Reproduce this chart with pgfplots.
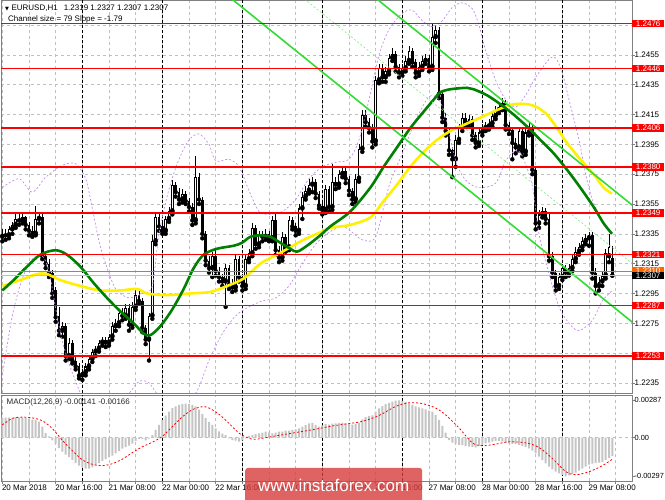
\documentclass[border=0pt]{standalone}
\usepackage{pgfplots}
\pgfplotsset{compat=1.18}
\usepackage{pgfplotstable}
\usepackage{fontspec}
\setmainfont{Liberation Sans}
\newfontfamily\symfont{DejaVu Sans}

\definecolor{lvlred}{RGB}{255,0,0}
\definecolor{maGreen}{RGB}{0,128,0}
\definecolor{maYellow}{RGB}{255,240,0}
\definecolor{chanGreen}{RGB}{50,220,50}
\definecolor{bbViolet}{RGB}{195,140,235}
\definecolor{gridGray}{RGB}{192,192,192}
\definecolor{histGray}{RGB}{196,196,196}
\definecolor{bidOrange}{RGB}{255,102,0}
\definecolor{frameGray}{RGB}{128,128,128}
\definecolor{wmRed}{RGB}{215,60,60}

% hourly candles, bar index i
\pgfplotstableread{
i o h l c
0 1.2333 1.2338 1.2330 1.2335
2 1.2334 1.2340 1.2332 1.2338
3 1.2338 1.2343 1.2335 1.2341
4 1.2341 1.2348 1.2339 1.2345
6 1.2344 1.2349 1.2342 1.2346
10 1.2335 1.2354 1.2334 1.2345
11 1.2345 1.2349 1.2342 1.2346
18 1.2270 1.2276 1.2266 1.2273
20 1.2253 1.2265 1.2251 1.2262
24 1.2240 1.2244 1.2237 1.2242
25 1.2242 1.2248 1.2240 1.2246
26 1.2246 1.2253 1.2244 1.2251
27 1.2251 1.2258 1.2249 1.2256
28 1.2256 1.2260 1.2253 1.2258
29 1.2258 1.2264 1.2256 1.2262
30 1.2262 1.2266 1.2260 1.2264
32 1.2262 1.2268 1.2260 1.2266
33 1.2266 1.2276 1.2264 1.2273
34 1.2273 1.2278 1.2270 1.2275
35 1.2275 1.2284 1.2273 1.2282
37 1.2280 1.2288 1.2278 1.2285
39 1.2274 1.2289 1.2272 1.2286
40 1.2286 1.2298 1.2284 1.2294
44 1.2264 1.2282 1.2250 1.2280
45 1.2280 1.2334 1.2278 1.2330
46 1.2330 1.2349 1.2328 1.2346
49 1.2337 1.2347 1.2335 1.2345
50 1.2345 1.2353 1.2343 1.2350
51 1.2350 1.2371 1.2348 1.2368
54 1.2358 1.2365 1.2356 1.2362
58 1.2344 1.2387 1.2342 1.2373
63 1.2312 1.2323 1.2306 1.2320
67 1.2303 1.2315 1.2286 1.2312
70 1.2299 1.2321 1.2297 1.2318
73 1.2300 1.2321 1.2298 1.2318
74 1.2318 1.2325 1.2316 1.2322
75 1.2322 1.2342 1.2320 1.2339
77 1.2328 1.2337 1.2326 1.2334
79 1.2333 1.2338 1.2331 1.2335
81 1.2332 1.2347 1.2330 1.2344
84 1.2319 1.2336 1.2317 1.2333
86 1.2326 1.2347 1.2324 1.2344
89 1.2337 1.2355 1.2335 1.2352
90 1.2352 1.2363 1.2345 1.2360
91 1.2360 1.2367 1.2358 1.2364
92 1.2364 1.2372 1.2362 1.2368
93 1.2368 1.2373 1.2363 1.2370
97 1.2351 1.2368 1.2349 1.2365
99 1.2353 1.2382 1.2351 1.2370
101 1.2368 1.2378 1.2366 1.2375
102 1.2375 1.2380 1.2373 1.2377
106 1.2358 1.2375 1.2356 1.2372
107 1.2372 1.2395 1.2370 1.2392
108 1.2392 1.2418 1.2390 1.2415
112 1.2397 1.2441 1.2395 1.2438
113 1.2438 1.2449 1.2436 1.2446
115 1.2440 1.2447 1.2437 1.2444
116 1.2444 1.2456 1.2442 1.2453
117 1.2453 1.2460 1.2451 1.2456
120 1.2443 1.2449 1.2441 1.2446
121 1.2446 1.2454 1.2444 1.2451
122 1.2451 1.2461 1.2449 1.2458
125 1.2443 1.2450 1.2441 1.2447
126 1.2447 1.2454 1.2445 1.2451
127 1.2451 1.2456 1.2449 1.2453
129 1.2447 1.2476 1.2445 1.2467
130 1.2467 1.2475 1.2463 1.2472
136 1.2385 1.2401 1.2380 1.2398
137 1.2398 1.2409 1.2396 1.2406
138 1.2406 1.2416 1.2404 1.2413
140 1.2409 1.2415 1.2407 1.2412
143 1.2396 1.2406 1.2394 1.2403
144 1.2403 1.2409 1.2401 1.2406
145 1.2406 1.2410 1.2404 1.2407
146 1.2407 1.2412 1.2405 1.2409
147 1.2409 1.2417 1.2407 1.2414
148 1.2414 1.2421 1.2412 1.2418
149 1.2418 1.2423 1.2416 1.2420
150 1.2420 1.2426 1.2418 1.2423
155 1.2393 1.2407 1.2391 1.2404
157 1.2390 1.2406 1.2388 1.2403
158 1.2403 1.2410 1.2401 1.2407
161 1.2342 1.2351 1.2339 1.2348
162 1.2348 1.2353 1.2346 1.2350
167 1.2300 1.2309 1.2298 1.2306
168 1.2306 1.2315 1.2304 1.2312
170 1.2309 1.2315 1.2307 1.2312
171 1.2312 1.2321 1.2310 1.2318
172 1.2318 1.2326 1.2316 1.2323
173 1.2323 1.2329 1.2321 1.2326
174 1.2326 1.2333 1.2324 1.2330
175 1.2330 1.2335 1.2328 1.2332
176 1.2332 1.2336 1.2327 1.2334
179 1.2300 1.2306 1.2297 1.2303
180 1.2303 1.2310 1.2300 1.2307
181 1.2307 1.2325 1.2305 1.2322
182 1.2320 1.2335 1.2316 1.2326
}\bulls

\pgfplotstableread{
i o h l c
1 1.2335 1.2338 1.2331 1.2334
5 1.2345 1.2348 1.2341 1.2344
7 1.2346 1.2347 1.2338 1.2341
8 1.2341 1.2343 1.2334 1.2337
9 1.2337 1.2340 1.2333 1.2335
12 1.2346 1.2348 1.2318 1.2320
13 1.2320 1.2323 1.2312 1.2315
14 1.2315 1.2318 1.2306 1.2309
15 1.2309 1.2311 1.2292 1.2295
16 1.2297 1.2299 1.2276 1.2279
17 1.2280 1.2286 1.2267 1.2270
19 1.2273 1.2275 1.2250 1.2253
21 1.2262 1.2264 1.2248 1.2250
22 1.2250 1.2253 1.2244 1.2246
23 1.2246 1.2248 1.2238 1.2240
31 1.2264 1.2266 1.2259 1.2262
36 1.2282 1.2285 1.2277 1.2280
38 1.2285 1.2288 1.2270 1.2274
41 1.2294 1.2297 1.2288 1.2290
42 1.2290 1.2292 1.2269 1.2272
43 1.2272 1.2274 1.2261 1.2264
47 1.2346 1.2348 1.2337 1.2340
48 1.2340 1.2343 1.2335 1.2337
52 1.2368 1.2370 1.2360 1.2363
53 1.2363 1.2366 1.2355 1.2358
55 1.2362 1.2364 1.2355 1.2357
56 1.2357 1.2359 1.2350 1.2353
57 1.2353 1.2356 1.2341 1.2344
59 1.2373 1.2376 1.2355 1.2358
60 1.2358 1.2360 1.2332 1.2335
61 1.2335 1.2337 1.2314 1.2317
62 1.2317 1.2320 1.2309 1.2312
64 1.2320 1.2324 1.2307 1.2310
65 1.2310 1.2313 1.2303 1.2306
66 1.2306 1.2308 1.2300 1.2303
68 1.2312 1.2314 1.2298 1.2301
69 1.2301 1.2305 1.2296 1.2299
71 1.2318 1.2320 1.2303 1.2306
72 1.2306 1.2308 1.2297 1.2300
76 1.2339 1.2341 1.2325 1.2328
78 1.2334 1.2337 1.2330 1.2333
80 1.2335 1.2337 1.2330 1.2332
82 1.2344 1.2348 1.2321 1.2324
83 1.2324 1.2327 1.2316 1.2319
85 1.2333 1.2335 1.2323 1.2326
87 1.2344 1.2346 1.2338 1.2340
88 1.2340 1.2342 1.2334 1.2337
94 1.2370 1.2372 1.2359 1.2362
95 1.2362 1.2364 1.2352 1.2354
96 1.2354 1.2357 1.2348 1.2351
98 1.2365 1.2367 1.2350 1.2353
100 1.2370 1.2373 1.2365 1.2368
103 1.2377 1.2379 1.2369 1.2372
104 1.2372 1.2374 1.2361 1.2364
105 1.2364 1.2366 1.2355 1.2358
109 1.2415 1.2418 1.2407 1.2410
110 1.2410 1.2413 1.2403 1.2406
111 1.2406 1.2409 1.2393 1.2397
114 1.2446 1.2449 1.2437 1.2440
118 1.2456 1.2458 1.2444 1.2447
119 1.2447 1.2449 1.2440 1.2443
123 1.2458 1.2460 1.2447 1.2450
124 1.2450 1.2452 1.2440 1.2443
128 1.2453 1.2455 1.2444 1.2447
131 1.2472 1.2474 1.2426 1.2429
132 1.2429 1.2431 1.2410 1.2413
133 1.2413 1.2416 1.2401 1.2404
134 1.2404 1.2406 1.2388 1.2391
135 1.2391 1.2393 1.2373 1.2385
139 1.2413 1.2416 1.2407 1.2409
141 1.2412 1.2414 1.2398 1.2401
142 1.2401 1.2403 1.2393 1.2396
151 1.2423 1.2425 1.2405 1.2408
152 1.2408 1.2410 1.2402 1.2405
153 1.2405 1.2407 1.2385 1.2396
154 1.2396 1.2399 1.2389 1.2393
156 1.2404 1.2406 1.2387 1.2390
159 1.2407 1.2409 1.2375 1.2378
160 1.2378 1.2380 1.2338 1.2342
163 1.2350 1.2352 1.2342 1.2345
164 1.2345 1.2348 1.2317 1.2320
165 1.2320 1.2323 1.2306 1.2309
166 1.2309 1.2311 1.2297 1.2300
169 1.2312 1.2314 1.2306 1.2309
177 1.2334 1.2336 1.2305 1.2309
178 1.2309 1.2312 1.2295 1.2300
183 1.2319 1.2327 1.2307 1.2307
}\bears

% MACD histogram
\pgfplotstableread{
i v
0 0.00154
1 0.00154
2 0.00155
3 0.00155
4 0.00156
5 0.00156
6 0.00154
7 0.00150
8 0.00145
9 0.00138
10 0.00135
11 0.00123
12 0.00085
13 0.00035
14 0.00010
15 -0.00020
16 -0.00045
17 -0.00080
18 -0.00108
19 -0.00130
20 -0.00150
21 -0.00170
22 -0.00195
23 -0.00215
24 -0.00228
25 -0.00238
26 -0.00238
27 -0.00228
28 -0.00212
29 -0.00195
30 -0.00178
31 -0.00165
32 -0.00152
33 -0.00138
34 -0.00120
35 -0.00103
36 -0.00085
37 -0.00072
38 -0.00062
39 -0.00045
40 -0.00025
41 -0.00010
42 -0.00012
43 -0.00020
44 -0.00008
45 0.00020
46 0.00060
47 0.00098
48 0.00135
49 0.00170
50 0.00200
51 0.00228
52 0.00240
53 0.00252
54 0.00258
55 0.00262
56 0.00260
57 0.00252
58 0.00240
59 0.00215
60 0.00182
61 0.00150
62 0.00122
63 0.00098
64 0.00072
65 0.00048
66 0.00032
67 0.00020
68 -0.00005
69 -0.00018
70 -0.00022
71 -0.00030
72 -0.00020
73 -0.00006
74 0.00012
75 0.00020
76 0.00028
77 0.00033
78 0.00038
79 0.00046
80 0.00040
81 0.00033
82 0.00038
83 0.00046
84 0.00046
85 0.00054
86 0.00054
87 0.00060
88 0.00064
89 0.00072
90 0.00085
91 0.00097
92 0.00110
93 0.00113
94 0.00098
95 0.00085
96 0.00095
97 0.00105
98 0.00100
99 0.00108
100 0.00110
101 0.00112
102 0.00115
103 0.00110
104 0.00105
105 0.00100
106 0.00105
107 0.00115
108 0.00140
109 0.00158
110 0.00168
111 0.00172
112 0.00200
113 0.00226
114 0.00243
115 0.00258
116 0.00268
117 0.00278
118 0.00284
119 0.00287
120 0.00282
121 0.00276
122 0.00264
123 0.00252
124 0.00240
125 0.00232
126 0.00226
127 0.00218
128 0.00208
129 0.00200
130 0.00174
131 0.00136
132 0.00090
133 0.00038
134 -0.00018
135 -0.00038
136 -0.00048
137 -0.00056
138 -0.00058
139 -0.00064
140 -0.00068
141 -0.00070
142 -0.00074
143 -0.00064
144 -0.00056
145 -0.00044
146 -0.00038
147 -0.00030
148 -0.00024
149 -0.00024
150 -0.00030
151 -0.00038
152 -0.00044
153 -0.00048
154 -0.00048
155 -0.00056
156 -0.00064
157 -0.00070
158 -0.00082
159 -0.00100
160 -0.00120
161 -0.00146
162 -0.00172
163 -0.00198
164 -0.00222
165 -0.00243
166 -0.00260
167 -0.00274
168 -0.00288
169 -0.00297
170 -0.00290
171 -0.00280
172 -0.00268
173 -0.00253
174 -0.00238
175 -0.00222
176 -0.00208
177 -0.00200
178 -0.00196
179 -0.00192
180 -0.00186
181 -0.00170
182 -0.00155
183 -0.00141
}\macd

\pgfplotsset{
  chart/.style={
    scale only axis, width=631pt, xmin=-0.4, xmax=188.9,
    clip mode=individual,
    axis line style={frameGray, line width=0.8pt},
    xtick={0,8,...,184},
    xmajorgrids,
    major grid style={gridGray, dash pattern=on 3pt off 3pt, line width=0.6pt},
    extra x ticks={24,48,72,96,120,144,168},
    extra x tick labels={},
    extra x tick style={grid=major, major grid style={black, dash pattern=on 3pt off 2pt, line width=0.6pt}, major tick length=0pt},
    ytick pos=right, yticklabel pos=right,
    tick align=outside, major tick length=3pt,
    tick style={frameGray, line width=0.6pt},
    yticklabel style={anchor=west, inner sep=0pt, xshift=-0.5pt},
    ticklabel style={font=\fontsize{8}{9}\selectfont},
    scaled y ticks=false,
  },
}
\tikzset{
  lvlbox/.style={anchor=west, fill=lvlred, text=white, inner sep=0pt,
    minimum width=32pt, minimum height=7.5pt, font=\fontsize{8}{8}\selectfont},
}

\begin{document}
\begin{tikzpicture}
\path[use as bounding box] (0pt,0pt) rectangle (665pt,499pt);

% ---------------- price panel ----------------
\begin{axis}[chart,
  name=price,
  at={(1pt,106pt)}, anchor=south west, height=393pt,
  ymin=1.22282, ymax=1.24919,
  ytick={1.2235,1.2255,1.2275,1.2295,1.2315,1.2335,1.2355,1.2375,1.2395,1.2415,1.2435,1.2455,1.2475},
  yticklabels={1.2235,,1.2275,1.2295,1.2315,1.2335,1.2355,1.2375,1.2395,1.2415,1.2435,1.2455,},
  ymajorgrids,
  xticklabels={},
  major x tick style={draw=none},
]
% wicks
\addplot[only marks, mark=none, forget plot,
  error bars/y dir=plus, error bars/y explicit, error bars/error mark=none,
  error bars/error bar style={draw=black, line width=0.9pt}]
  table[x=i, y=l, y error plus expr=\thisrow{h}-\thisrow{l}] {\bulls};
\addplot[only marks, mark=none, forget plot,
  error bars/y dir=plus, error bars/y explicit, error bars/error mark=none,
  error bars/error bar style={draw=black, line width=0.9pt}]
  table[x=i, y=l, y error plus expr=\thisrow{h}-\thisrow{l}] {\bears};
% bodies
\addplot[only marks, mark=none, forget plot,
  error bars/y dir=plus, error bars/y explicit, error bars/error mark=none,
  error bars/error bar style={draw=black, line width=2.6pt}]
  table[x=i, y=c, y error plus expr={max(\thisrow{o}-\thisrow{c},0.00007)}] {\bears};
\addplot[only marks, mark=none, forget plot,
  error bars/y dir=plus, error bars/y explicit, error bars/error mark=none,
  error bars/error bar style={draw=black, line width=2.8pt}]
  table[x=i, y=o, y error plus expr={max(\thisrow{c}-\thisrow{o},0.00007)}] {\bulls};
\addplot[only marks, mark=none, forget plot,
  error bars/y dir=plus, error bars/y explicit, error bars/error mark=none,
  error bars/error bar style={draw=white, line width=1.0pt}]
  table[x=i, y expr=\thisrow{o}+0.00007, y error plus expr={max(\thisrow{c}-\thisrow{o}-0.00014,0)}] {\bulls};

% Bollinger bands
\addplot[bbViolet, line width=0.7pt, dash pattern=on 2pt off 2pt, smooth, forget plot] coordinates {
(0,1.2366) (5,1.2372) (9,1.2363) (13,1.2373) (18,1.2381) (22,1.2382) (25,1.2372) (27,1.2352)
(29,1.2330) (31,1.2315) (34,1.2298) (38,1.2292) (42,1.2295) (45,1.2300) (47,1.2335) (50,1.2365)
(53,1.2385) (56,1.2398) (59,1.2402) (62,1.2395) (64,1.2384) (68,1.2385) (71,1.2380) (74,1.2364)
(77,1.2350) (80,1.2348) (84,1.2350) (88,1.2358) (92,1.2372) (96,1.2380) (100,1.2383) (104,1.2385)
(107,1.2398) (110,1.2425) (113,1.2455) (116,1.2472) (120,1.2483) (123,1.2485) (126,1.2478)
(129,1.2474) (132,1.2478) (135,1.2487) (138,1.2490) (141,1.2486) (143,1.2475) (145,1.2458)
(148,1.2438) (151,1.2425) (154,1.2420) (157,1.2428) (160,1.2440) (164,1.2452) (166,1.2453)
(168,1.2443) (170,1.2425) (173,1.2398) (175,1.2375) (177,1.2358) (180,1.2344) (183,1.2335)};
\addplot[bbViolet, line width=0.7pt, dash pattern=on 2pt off 2pt, smooth, forget plot] coordinates {
(0,1.2240) (3,1.2280) (6,1.2305) (9,1.2318) (12,1.2320) (14,1.2310) (16,1.2285) (18,1.2263)
(20,1.2248) (22,1.2236) (24,1.2226) (28,1.2218) (34,1.2220) (38,1.2228) (41,1.2236) (44,1.2235)
(47,1.2226) (52,1.2218) (58,1.2228) (62,1.2250) (66,1.2268) (70,1.2280) (74,1.2286) (78,1.2290)
(82,1.2292) (86,1.2300) (90,1.2315) (94,1.2328) (98,1.2336) (102,1.2340) (105,1.2336)
(108,1.2331) (112,1.2333) (116,1.2367) (120,1.2389) (124,1.2411) (128,1.2427) (131,1.2425)
(133,1.2413) (136,1.2384) (139,1.2371) (143,1.2366) (148,1.2369) (151,1.2384) (154,1.2391)
(156,1.2387) (159,1.2367) (161,1.2335) (164,1.2308) (167,1.2286) (170,1.2275) (173,1.2270)
(177,1.2277) (180,1.2290) (183,1.2297)};

% moving averages
\addplot[maYellow, line width=2.6pt, smooth, forget plot] coordinates {
(0,1.2300) (5.4,1.2304) (10.4,1.2308) (13.4,1.2308) (17.4,1.2304) (23.4,1.2300) (29.4,1.2297)
(35.4,1.2297) (40.4,1.2298) (43.4,1.2295) (47.4,1.2294) (50.4,1.2294) (56.4,1.2295) (62.4,1.2296)
(67.4,1.2300) (72.4,1.2305) (77.4,1.2315) (82.4,1.2321) (86.4,1.2326) (90.4,1.2331) (95.4,1.2336)
(98.4,1.2339) (104.4,1.2341) (110.4,1.2346) (114.4,1.2357) (118.4,1.2368) (122.4,1.2380)
(126.4,1.2390) (130.4,1.2398) (134.4,1.2404) (138.4,1.2408) (141.4,1.2411) (145.4,1.2415)
(149.4,1.2419) (153.4,1.2422) (157.4,1.2422) (160.4,1.2420) (163.4,1.2415) (166.4,1.2406)
(169.4,1.2396) (173.4,1.2385) (177.4,1.2375) (180.4,1.2366) (182.9,1.2362)};
\addplot[maGreen, line width=2.6pt, smooth, forget plot] coordinates {
(0,1.2297) (3.4,1.2304) (7.4,1.2313) (11.4,1.2321) (15.9,1.2324) (19.4,1.2321) (23.4,1.2313)
(27.4,1.2302) (31.4,1.2292) (35.4,1.2283) (39.4,1.2275) (42.4,1.2268) (44.4,1.2267) (47.4,1.2273)
(50.9,1.2284) (54.4,1.2298) (57.4,1.2312) (60.4,1.2321) (64.4,1.2325) (69.4,1.2327) (71.9,1.2329)
(74.4,1.2333) (77.4,1.2334) (80.4,1.2333) (83.4,1.2329) (86.4,1.2325) (88.4,1.2323) (91.4,1.2327)
(95.4,1.2334) (98.4,1.2340) (104.4,1.2350) (110.4,1.2366) (114.4,1.2380) (118.4,1.2393)
(122.4,1.2406) (126.4,1.2417) (129.4,1.2425) (131.4,1.2430) (134.4,1.2432) (139.4,1.2433)
(141.4,1.2432) (145.4,1.2428) (149.4,1.2422) (153.4,1.2415) (157.4,1.2407) (161.4,1.2398)
(165.4,1.2389) (169.4,1.2378) (173.4,1.2366) (177.4,1.2353) (180.4,1.2342) (182.9,1.2335)};

% regression channel
\addplot[chanGreen, line width=1.6pt, forget plot] coordinates {(105,1.25058) (190,1.23524)};
\addplot[chanGreen, line width=1.6pt, forget plot] coordinates {(65,1.24995) (190,1.22739)};
\addplot[chanGreen!60!white, line width=0.6pt, dash pattern=on 2pt off 2pt, forget plot] coordinates {(85,1.25027) (190,1.23132)};

% levels
\addplot[gridGray, line width=0.8pt, forget plot] coordinates {(-1,1.2307) (190,1.2307)};
\addplot[bidOrange, line width=0.8pt, forget plot] coordinates {(-1,1.2310) (190,1.2310)};
\addplot[lvlred, line width=1.5pt, forget plot] coordinates {(-1,1.2476) (190,1.2476)};
\addplot[lvlred, line width=1.5pt, forget plot] coordinates {(-1,1.2446) (190,1.2446)};
\addplot[lvlred, line width=1.5pt, forget plot] coordinates {(-1,1.2406) (190,1.2406)};
\addplot[lvlred, line width=1.5pt, forget plot] coordinates {(-1,1.2380) (190,1.2380)};
\addplot[lvlred, line width=1.5pt, forget plot] coordinates {(-1,1.2349) (190,1.2349)};
\addplot[lvlred, line width=1.5pt, forget plot] coordinates {(-1,1.2321) (190,1.2321)};
\addplot[lvlred, line width=1.5pt, forget plot] coordinates {(-1,1.2287) (190,1.2287)};
\addplot[lvlred, line width=1.5pt, forget plot] coordinates {(-1,1.2253) (190,1.2253)};

\node[lvlbox] at (axis cs:188.9,1.2476) {1.2476};
\node[lvlbox] at (axis cs:188.9,1.2446) {1.2446};
\node[lvlbox] at (axis cs:188.9,1.2406) {1.2406};
\node[lvlbox] at (axis cs:188.9,1.2380) {1.2380};
\node[lvlbox] at (axis cs:188.9,1.2349) {1.2349};
\node[lvlbox] at (axis cs:188.9,1.2321) {1.2321};
\node[lvlbox] at (axis cs:188.9,1.2287) {1.2287};
\node[lvlbox] at (axis cs:188.9,1.2253) {1.2253};
\node[lvlbox, fill=bidOrange] at (axis cs:188.9,1.2310) {1.2310};
\node[lvlbox, fill=black] at (axis cs:188.9,1.2307) {1.2307};
\end{axis}

% ---------------- MACD panel ----------------
\begin{axis}[chart,
  name=macdax,
  at={(1pt,18pt)}, anchor=south west, height=86pt,
  ymin=-0.00333, ymax=0.00328,
  ytick={-0.00297,0,0.00287},
  yticklabels={-0.00297,0.00,0.00287},
  yticklabel style={font=\fontsize{7.4}{8}\selectfont},
  extra y ticks={0}, extra y tick labels={},
  extra y tick style={grid=major, major tick length=0pt},
  xtick pos=left,
  xticklabels={20 Mar 2018,,20 Mar 16:00,,21 Mar 08:00,,22 Mar 00:00,,22 Mar 16:00,,23 Mar 08:00,,26 Mar 00:00,,26 Mar 16:00,,27 Mar 08:00,,28 Mar 00:00,,28 Mar 16:00,,29 Mar 08:00,},
  xticklabel style={anchor=north west, inner sep=0pt, xshift=-0.5pt, yshift=-1pt},
]
\addplot[ybar, bar width=2pt, fill=histGray, draw=none, forget plot] table[x=i, y=v] {\macd};
\addplot[lvlred, line width=0.8pt, dash pattern=on 2pt off 2pt, smooth, forget plot] coordinates {
(0,0.00098) (3,0.00148) (6,0.00158) (9,0.00152) (12,0.00130) (15,0.00070) (18,-0.00020)
(21,-0.00100) (24,-0.00170) (27,-0.00205) (30,-0.00215) (33,-0.00200) (36,-0.00165) (39,-0.00115)
(42,-0.00070) (45,-0.00035) (48,0.00010) (51,0.00085) (54,0.00160) (57,0.00215) (60,0.00238)
(62,0.00228) (65,0.00180) (68,0.00110) (71,0.00035) (74,-0.00005) (76,-0.00012) (79,0.00000)
(83,0.00018) (87,0.00035) (91,0.00052) (95,0.00070) (99,0.00090) (103,0.00105) (108,0.00125)
(113,0.00170) (118,0.00240) (122,0.00268) (126,0.00262) (130,0.00228) (133,0.00175) (137,0.00075)
(141,-0.00040) (144,-0.00062) (148,-0.00050) (152,-0.00032) (157,-0.00040) (161,-0.00075)
(165,-0.00160) (169,-0.00260) (172,-0.00285) (176,-0.00262) (180,-0.00215) (183,-0.00166)};
\end{axis}

% captions
\node[anchor=base west, inner sep=0pt, font=\fontsize{8}{9}\selectfont] at (5pt,488.3pt)
  {{\symfont\fontsize{5}{5}\selectfont ▼}\hspace{2.5pt}EURUSD,H1\hspace{6pt}1.2319 1.2327 1.2307 1.2307};
\node[anchor=base west, inner sep=0pt, font=\fontsize{8}{9}\selectfont] at (8pt,477.3pt)
  {Channel size = 79 Slope = -1.79};
\node[anchor=base west, inner sep=0pt, font=\fontsize{8}{9}\selectfont, text={rgb,255:red,40;green,40;blue,40}] at (6.5pt,94.5pt)
  {MACD(12,26,9) -0.00141 -0.00166};

% watermark (semi-transparent, the dates show faintly through it)
\node[anchor=south west, fill=wmRed, fill opacity=0.8, text opacity=1, text=white, rounded corners=3pt, inner sep=0pt,
  minimum width=177pt, minimum height=35pt, font=\fontsize{17}{17}\selectfont] at (245pt,-4pt)
  {www.instaforex.com};
\end{tikzpicture}
\end{document}
